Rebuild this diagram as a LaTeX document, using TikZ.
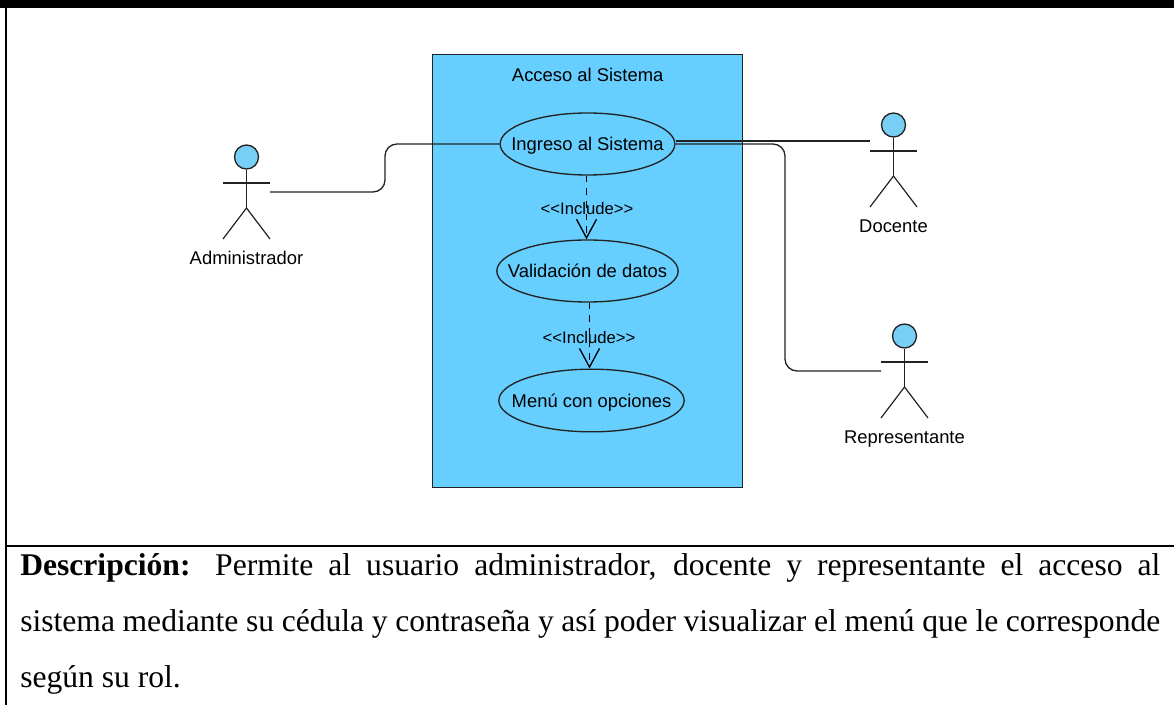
\documentclass[tikz,border=0pt]{standalone}
\usepackage{fontspec}
\setmainfont{Liberation Serif}
\newfontfamily\umlfont{Liberation Sans}
\usetikzlibrary{positioning}
\usetikzlibrary{shapes.geometric}
\usetikzlibrary{arrows.meta}
\definecolor{sysblue}{HTML}{66CFFF}
\definecolor{headblue}{HTML}{78CFF5}
\definecolor{linegray}{HTML}{222222}
\tikzset{
    usecase/.style={ellipse, draw=linegray, line width=1pt, fill=sysblue, inner xsep=-18pt, inner ysep=0pt, minimum width=131pt, minimum height=46.5pt, text height=10pt, text depth=0pt, font=\umlfont\fontsize{13.8}{16}\selectfont},
    umltext/.style={font=\umlfont\fontsize{13.8}{16}\selectfont, inner sep=0pt},
    smalltext/.style={font=\umlfont\fontsize{12.5}{14}\selectfont, inner sep=0pt},
    include/.style={line width=1.2pt, dash pattern=on 5pt off 4.5pt, -{Straight Barb[length=14pt, width=15pt, line width=1pt]}},
    assoc/.style={draw=linegray, line width=1pt, rounded corners=9pt},
    limb/.style={draw=linegray, line width=0.9pt},
}
\begin{document}
\begin{tikzpicture}[x=0.75pt, y=-0.75pt]
    \useasboundingbox (0,0) rectangle (1174,705);
    % page frame
    \fill[black] (0,0) rectangle (1174,8);
    \draw[line width=1.5pt] (6,8) -- (6,705);
    \draw[line width=1.5pt] (6,546) -- (1174,546);

    \node [rectangle, draw=linegray, line width=1pt, fill=sysblue, minimum width=232.5pt, minimum height=324.75pt, anchor=north west, inner sep=0pt] (system) at (432,54) {};
    \node [umltext, below=10.5pt of system.north] (title) {Acceso al Sistema};

    \node [usecase] (ingreso) at (587.5,144) {Ingreso al Sistema};
    \node [usecase, minimum width=136pt] (validacion) at (587.5,271) {Validación de datos};
    \node [usecase, minimum width=139pt, minimum height=47pt] (menu) at (591.5,400.5) {Menú con opciones};

    % actors
    \foreach \who/\hx/\hy/\txt in {admin/246.5/157/Administrador, docente/893.5/125/Docente, repre/904.5/336/Representante} {
        \node [circle, draw=linegray, line width=1pt, fill=headblue, minimum size=18pt, inner sep=0pt] (\who) at (\hx,\hy) {};
        \coordinate (\who hip) at (\hx,\hy+51);
        \draw[limb] (\who.south) -- (\who hip);
        \draw[limb] (\hx-23.5,\hy+26) -- (\hx+23.5,\hy+26);
        \draw[limb] (\hx-23.5,\hy+82) -- (\who hip) -- (\hx+23.5,\hy+82);
        \node [umltext, anchor=base] (\who label) at (\hx,\hy+108) {\txt};
    }
    \coordinate (adminhand) at (270,192);
    \coordinate (docentehand) at (870,141);
    \coordinate (reprehand) at (881,371);

    \draw[assoc] (adminhand) -- (385,192) -- (385,144) -- (ingreso.west);
    \draw[assoc] (ingreso.east |- docentehand) -- (docentehand);
    \draw[assoc] (ingreso.east) -- (785,144) -- (785,371) -- (reprehand);

    \draw[include] ([xshift=-0.75pt]ingreso.south) -- ([xshift=-0.75pt]validacion.north);
    \draw[include] ([xshift=1.5pt]validacion.south) -- ([xshift=1.5pt]validacion.south |- menu.north);
    \node [smalltext] (inc1) at (587,208.5) {<{}<Include>{}>};
    \node [smalltext] (inc2) at (589,337.5) {<{}<Include>{}>};

    \node [anchor=north west, inner sep=0pt, text width=855pt, align=justify, font=\fontsize{23.7}{42}\selectfont] (descripcion) at (20,553.5) {\textbf{Descripción:} Permite al usuario administrador, docente y representante el acceso al\linebreak sistema mediante su cédula y contraseña y así poder visualizar el menú que le corresponde\linebreak según su rol.};
\end{tikzpicture}
\end{document}
